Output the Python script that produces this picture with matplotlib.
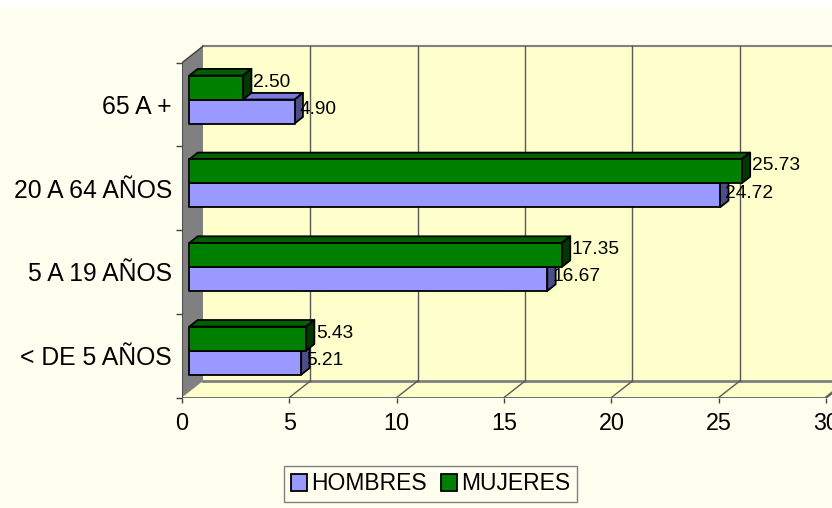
import matplotlib
matplotlib.use("Agg")
import matplotlib.pyplot as plt
from matplotlib.patches import Polygon, Rectangle, Patch

plt.rcParams['font.family'] = ['Liberation Sans', 'DejaVu Sans']

# ---- data ----
categories = ['< DE 5 AÑOS', '5 A 19 AÑOS', '20 A 64 AÑOS', '65 A +']
hombres = [5.21, 16.67, 24.72, 4.90]
mujeres = [5.43, 17.35, 25.73, 2.50]
series_names = ['HOMBRES', 'MUJERES']
x_ticks = [0, 5, 10, 15, 20, 25, 30]

# ---- geometry (pixels) ----
W, H = 832, 508
SX = 21.47    # px per value unit
SY = 83.7     # px per category
AX_L, AX_R, AX_B, AX_T = 182, 832, 397.5, 40
DX = 21.0 / SX    # 3D depth offset in data units
DY = 16.5 / SY
F1 = 0.35         # bar front position in depth
FD = 0.40         # bar depth fraction
BAR_OFF = 0.204
BAR_H = 0.287

BG = '#FFFFF0'
WALL = '#FFFFCC'
GRID = '#5A5A5A'

fig = plt.figure(figsize=(W / 100, H / 100), dpi=100)
fig.patch.set_facecolor('white')
fig.add_artist(Rectangle((0, 0), 1, 1 - 7 / H, transform=fig.transFigure,
                         facecolor=BG, edgecolor='none', zorder=-10))

ax = fig.add_axes([AX_L / W, (H - AX_B) / H, (AX_R - AX_L) / W, (AX_B - AX_T) / H])
ax.set_xlim(0, (AX_R - AX_L) / SX)
ax.set_ylim(0, (AX_B - AX_T) / SY)
ax.patch.set_visible(False)
for s in ax.spines.values():
    s.set_visible(False)

ncat = len(categories)
xmax = x_ticks[-1]

# walls
ax.add_patch(Polygon([(DX, DY), (xmax + DX, DY), (xmax + DX, ncat + DY), (DX, ncat + DY)],
                     closed=True, facecolor=WALL, edgecolor='none', zorder=1))
ax.add_patch(Polygon([(0, 0), (xmax, 0), (xmax + DX, DY), (DX, DY)],
                     closed=True, facecolor=WALL, edgecolor='none', zorder=1))
ax.add_patch(Polygon([(0, 0), (DX, DY), (DX, ncat + DY), (0, ncat)],
                     closed=True, facecolor='#808080', edgecolor='none', zorder=1))
# wall edges
ax.plot([DX, xmax + DX], [ncat + DY, ncat + DY], color='#808080', lw=1.5, zorder=2)
ax.plot([DX, xmax + DX], [DY, DY], color='#808080', lw=2, zorder=2)
ax.plot([0, xmax], [0, 0], color='#606060', lw=2, zorder=2)
ax.plot([xmax, xmax + DX], [0, DY], color='#808080', lw=2, zorder=2)
ax.plot([0, 0], [0, ncat], color='#404040', lw=1.2, zorder=2)
ax.plot([0, DX], [ncat, ncat + DY], color='#404040', lw=1, zorder=2)
# gridlines
for v in x_ticks[1:]:
    ax.plot([v + DX, v + DX], [DY, ncat + DY], color=GRID, lw=1, zorder=2)
    ax.plot([v, v + DX], [0, DY], color=GRID, lw=1, zorder=2)

colors = {
    0: ('#9999FF', '#7B7BDD', '#4D4D8A'),
    1: ('#008000', '#006000', '#003800'),
}

def bar3d(x0, y0, v, h, cols):
    front, top, side = cols
    dx, dy = FD * DX, FD * DY
    kw = dict(closed=True, edgecolor='black', lw=1.3, joinstyle='round', zorder=3)
    ax.add_patch(Polygon([(x0, y0 + h), (x0 + v, y0 + h), (x0 + v + dx, y0 + h + dy),
                          (x0 + dx, y0 + h + dy)], facecolor=top, **kw))
    ax.add_patch(Polygon([(x0 + v, y0), (x0 + v + dx, y0 + dy), (x0 + v + dx, y0 + h + dy),
                          (x0 + v, y0 + h)], facecolor=side, **kw))
    ax.add_patch(Polygon([(x0, y0), (x0 + v, y0), (x0 + v, y0 + h), (x0, y0 + h)],
                         facecolor=front, **kw))

label_dx = {0: 5 / SX, 1: 10 / SX}
label_dy = {0: 4 / SY, 1: 7.5 / SY}

for i in range(ncat - 1, -1, -1):
    for s, vals in enumerate([hombres, mujeres]):
        v = vals[i]
        x0 = F1 * DX
        y0 = i + F1 * DY + BAR_OFF + s * BAR_H
        bar3d(x0, y0, v, BAR_H, colors[s])
for i in range(ncat):
    for s, vals in enumerate([hombres, mujeres]):
        v = vals[i]
        x0 = F1 * DX
        y0 = i + F1 * DY + BAR_OFF + s * BAR_H
        ax.text(x0 + v + label_dx[s], y0 + BAR_H / 2 + label_dy[s], f'{v:.2f}',
                ha='left', va='center_baseline', fontsize=13.8, color='black', zorder=5)

# ticks
ax.set_xticks(x_ticks)
ax.set_xticklabels([str(t) for t in x_ticks])
ax.tick_params(axis='x', direction='out', length=3.6, width=1, color='#404040',
               pad=7, labelsize=16.8)
ax.set_yticks(range(ncat + 1))
ax.set_yticklabels([''] * (ncat + 1))
ax.tick_params(axis='y', which='major', direction='out', length=4.3, width=1, color='#404040')
ax.set_yticks([i + 0.5 for i in range(ncat)], minor=True)
ax.set_yticklabels(categories, minor=True)
ax.tick_params(axis='y', which='minor', length=0, pad=7.2, labelsize=17.8)

handles = [Patch(facecolor=colors[0][0], edgecolor='black', lw=1.3),
           Patch(facecolor=colors[1][0], edgecolor='black', lw=1.3)]
leg = fig.legend(handles, series_names, loc='center', bbox_to_anchor=(430.5 / W, 1 - 484 / H),
                 ncol=2, fontsize=16.5, frameon=True, fancybox=False, framealpha=1,
                 facecolor=BG, edgecolor='#808080', handlelength=0.7, handleheight=0.7,
                 handletextpad=0.2, columnspacing=0.6, borderpad=0.3, borderaxespad=0)
leg.get_frame().set_linewidth(1)

fig.savefig('out.png', dpi=100, facecolor=fig.get_facecolor())
